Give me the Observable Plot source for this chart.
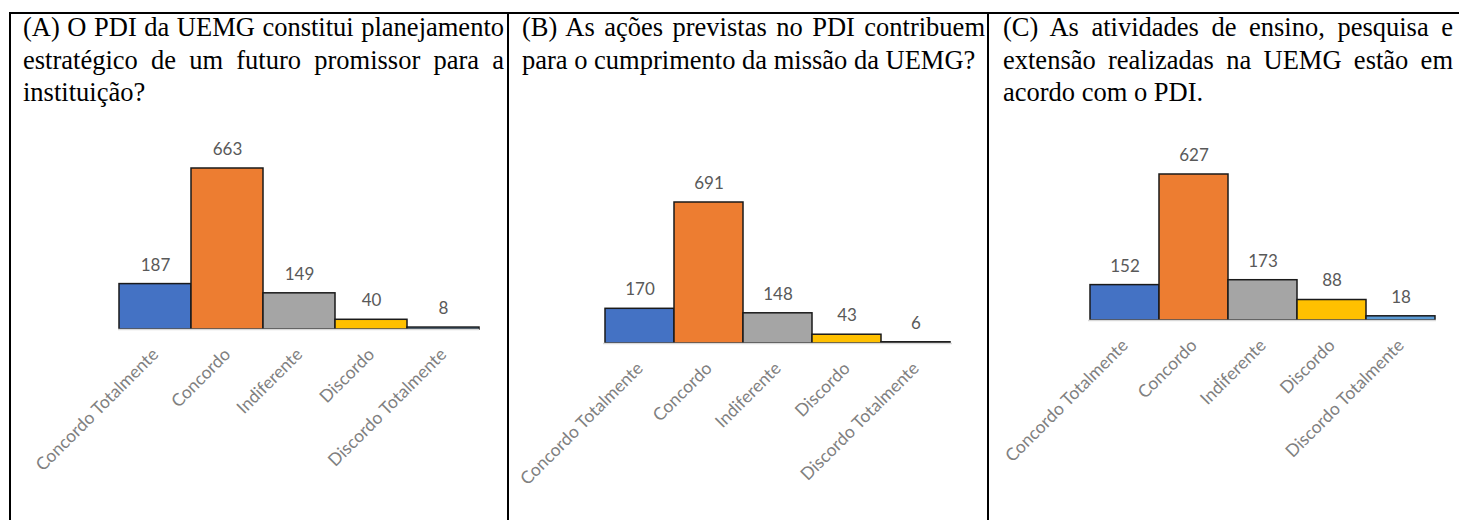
<!DOCTYPE html>
<html><head><meta charset="utf-8">
<script src="https://cdn.jsdelivr.net/npm/d3@7"></script>
<script src="https://cdn.jsdelivr.net/npm/@observablehq/plot@0.6"></script>
<style>
body{margin:0;background:#fff;width:1459px;height:520px;overflow:hidden;position:relative}
.b{position:absolute;background:#000}
.title{position:absolute;top:11px;font-family:"Liberation Serif","Times New Roman",serif;font-size:26.5px;line-height:32.5px;color:#000}
.title div{text-align:justify;text-align-last:justify}
.title div.last{text-align-last:left}
.chart{position:absolute;top:120px}
.chart svg{display:block;overflow:visible}
</style></head><body>
<div class="b" style="left:9px;top:12px;width:1450px;height:2px"></div>
<div class="b" style="left:9px;top:12px;width:2px;height:508px"></div>
<div class="b" style="left:507px;top:12px;width:2px;height:508px"></div>
<div class="b" style="left:987px;top:12px;width:2px;height:508px"></div>
<script>
const categories = ["Concordo Totalmente", "Concordo", "Indiferente", "Discordo", "Discordo Totalmente"];
const valuesA = [187, 663, 149, 40, 8];
const valuesB = [170, 691, 148, 43, 6];
const valuesC = [152, 627, 173, 88, 18];
const titleA = ["(A) O PDI da UEMG constitui planejamento", "estratégico de um futuro promissor para a", "instituição?"];
const titleB = ["(B) As ações previstas no PDI contribuem", "para o cumprimento da missão da UEMG?"];
const titleC = ["(C) As atividades de ensino, pesquisa e", "extensão realizadas na UEMG estão em", "acordo com o PDI."];
const palette = ["#4472C4", "#ED7D31", "#A5A5A5", "#FFC000", "#5B9BD5"];

const panels = [
  {values: valuesA, title: titleA, tx: 23, tw: 481, sx: 11, sw: 496, ml: 107, mr: 28, mt: 48, mb: 191},
  {values: valuesB, title: titleB, tx: 522, tw: 463, sx: 509, sw: 478, ml: 94, mr: 35, mt: 82, mb: 177},
  {values: valuesC, title: titleC, tx: 1003, tw: 450, sx: 989, sw: 470, ml: 99, mr: 23, mt: 54, mb: 200}
];

for (const p of panels) {
  const t = document.createElement("div");
  t.className = "title";
  t.style.left = p.tx + "px";
  t.style.width = p.tw + "px";
  p.title.forEach((line, i) => {
    const d = document.createElement("div");
    d.textContent = line;
    if (i === p.title.length - 1) d.className = "last";
    t.appendChild(d);
  });
  document.body.appendChild(t);

  const data = categories.map((c, i) => ({category: c, value: p.values[i]}));
  const svg = Plot.plot({
    width: p.sw, height: 400,
    marginLeft: p.ml, marginRight: p.mr, marginTop: p.mt, marginBottom: p.mb,
    x: {domain: categories, padding: 0, axis: null},
    y: {domain: [0, d3.max(p.values)], axis: null},
    color: {domain: categories, range: palette},
    style: {fontFamily: "Lato, 'Open Sans', sans-serif", background: "transparent"},
    marks: [
      Plot.barY(data, {x: "category", y: "value", fill: "category", stroke: "#1a1a1a", strokeWidth: 1.5}),
      Plot.ruleY([0], {stroke: "#d9d9d9", strokeWidth: 1.5}),
      Plot.text(data, {x: "category", y: "value", text: d => String(d.value), dy: -19, fill: "#595959", fontSize: 17}),
      Plot.text(categories, {x: d => d, frameAnchor: "bottom", dy: 22, rotate: -45, textAnchor: "end", lineAnchor: "middle", fill: "#808080", fontSize: 17.5})
    ]
  });
  const wrap = document.createElement("div");
  wrap.className = "chart";
  wrap.style.left = p.sx + "px";
  wrap.appendChild(svg);
  document.body.appendChild(wrap);
}
</script>
</body></html>
